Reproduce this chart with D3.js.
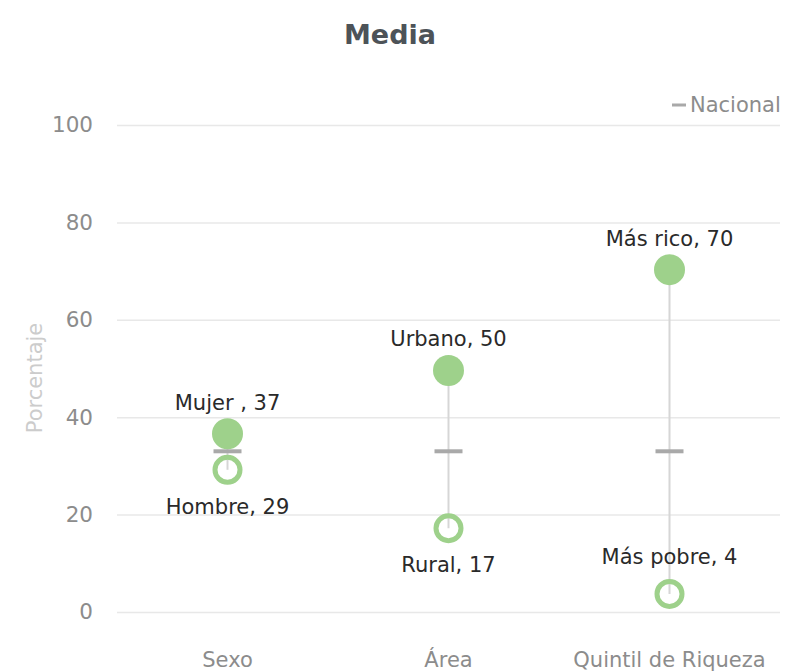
<!DOCTYPE html>
<html><head><meta charset="utf-8">
<script src="https://cdn.jsdelivr.net/npm/d3@7"></script>
<style>body{margin:0;background:#fff}svg{display:block}</style>
</head><body>
<svg id="c" width="787" height="672"></svg>
<script>
const categories = ["Sexo", "Área", "Quintil de Riqueza"];
const highNames = ["Mujer ", "Urbano", "Más rico"];
const highValues = [36.6, 49.6, 70.3];
const lowNames = ["Hombre", "Rural", "Más pobre"];
const lowValues = [29.2, 17.2, 3.7];
const nacional = [33, 33, 33];
const yTicks = [0, 20, 40, 60, 80, 100];

const svg = d3.select("#c");
const font = "'DejaVu Sans', Verdana, sans-serif";
const m = {left: 117, right: 780, top: 125, bottom: 612};
const x = d3.scaleBand().domain(categories).range([m.left, m.right]);
const y = d3.scaleLinear().domain([0, 100]).range([m.bottom, m.top]);

svg.append("text").attr("x", 390).attr("y", 44).attr("text-anchor", "middle")
  .attr("font-family", font).attr("font-weight", "bold").attr("font-size", 27)
  .attr("fill", "#4d5358").text("Media");

const yAxis = svg.append("g").attr("transform", `translate(${m.left},0)`)
  .call(d3.axisLeft(y).tickValues(yTicks).tickSize(-(m.right - m.left)).tickPadding(24));
yAxis.select(".domain").remove();
yAxis.selectAll(".tick line").attr("stroke", "#e8e8e8").attr("stroke-width", 1.5);
yAxis.selectAll(".tick text").attr("font-family", font).attr("font-size", 21.5).attr("fill", "#8c8c8c");

const xAxis = svg.append("g").attr("transform", `translate(0,${m.bottom})`)
  .call(d3.axisBottom(x).tickSize(0).tickPadding(40));
xAxis.select(".domain").remove();
xAxis.selectAll(".tick text").attr("font-family", font).attr("font-size", 21).attr("fill", "#8c8c8c");

svg.append("text").attr("transform", "translate(42,378) rotate(-90)")
  .attr("text-anchor", "middle").attr("font-family", font).attr("font-size", 21)
  .attr("fill", "#cccccc").text("Porcentaje");

const cx = c => x(c) + x.bandwidth() / 2;
const g = svg.append("g");
categories.forEach((c, i) => {
  g.append("line").attr("x1", cx(c)).attr("x2", cx(c))
    .attr("y1", y(highValues[i])).attr("y2", y(lowValues[i]))
    .attr("stroke", "#d6d6d6").attr("stroke-width", 2);
});
categories.forEach((c, i) => {
  g.append("line").attr("x1", cx(c) - 14).attr("x2", cx(c) + 14)
    .attr("y1", y(nacional[i])).attr("y2", y(nacional[i]))
    .attr("stroke", "#a9a9a9").attr("stroke-width", 4);
});
categories.forEach((c, i) => {
  g.append("circle").attr("cx", cx(c)).attr("cy", y(highValues[i])).attr("r", 15.5)
    .attr("fill", "#9ed18b");
  g.append("circle").attr("cx", cx(c)).attr("cy", y(lowValues[i])).attr("r", 12.5)
    .attr("fill", "none").attr("stroke", "#9ed18b").attr("stroke-width", 5);
  g.append("text").attr("x", cx(c)).attr("y", y(highValues[i]) - 24)
    .attr("text-anchor", "middle").attr("font-family", font).attr("font-size", 21)
    .attr("fill", "#2a2a2a").text(`${highNames[i]}, ${Math.round(highValues[i])}`);
  const below = lowValues[i] >= 10;
  g.append("text").attr("x", cx(c)).attr("y", below ? y(lowValues[i]) + 44 : y(lowValues[i]) - 30)
    .attr("text-anchor", "middle").attr("font-family", font).attr("font-size", 21)
    .attr("fill", "#2a2a2a").text(`${lowNames[i]}, ${Math.round(lowValues[i])}`);
});

svg.append("line").attr("x1", 672).attr("x2", 686).attr("y1", 105).attr("y2", 105)
  .attr("stroke", "#a9a9a9").attr("stroke-width", 3);
svg.append("text").attr("x", 690).attr("y", 112).attr("font-family", font)
  .attr("font-size", 21).attr("fill", "#8c8c8c").text("Nacional");
</script>
</body></html>
